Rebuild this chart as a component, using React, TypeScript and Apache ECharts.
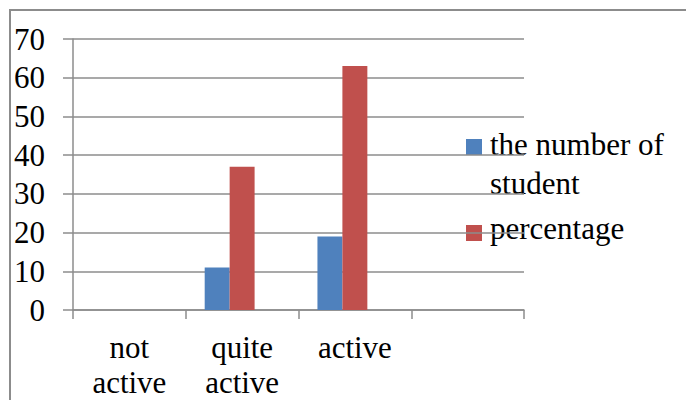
import React, { useEffect, useRef } from "react";
import * as echarts from "echarts";

const categories = ["not active", "quite active", "active", ""];
const seriesNames = ["the number of student", "percentage"];
const studentCounts = [0, 11, 19, null];
const percentages = [0, 37, 63, null];
const emptySeries = [null, null, null, null];
const yTicks = { min: 0, max: 70, interval: 10 };

const colors = ["#4F81BD", "#C0504D"];
const FONT = "Times New Roman";
const GREY = "#8c8c8c";

const nameWords = seriesNames[0].split(" ");
const legendLine1 = nameWords.slice(0, 3).join(" ");
const legendLine2 = nameWords.slice(3).join(" ");

export default function App() {
  const ref = useRef<HTMLDivElement>(null);
  useEffect(() => {
    if (!ref.current) return;
    const chart = echarts.init(ref.current, null, { renderer: "svg" });
    chart.setOption({
      animation: false,
      textStyle: { fontFamily: FONT },
      grid: { left: 73, right: 162, top: 39, bottom: 89, containLabel: false },
      xAxis: {
        type: "category",
        data: categories,
        boundaryGap: true,
        axisLine: { show: true, lineStyle: { color: GREY, width: 1.5 } },
        axisTick: { show: true, length: 9, alignWithLabel: false, interval: 0, lineStyle: { color: GREY, width: 1.5 } },
        axisLabel: {
          interval: 0,
          margin: 20,
          fontFamily: FONT,
          fontSize: 31,
          lineHeight: 35,
          color: "#000",
          formatter: (v: string) => v.replace(" ", "\n"),
        },
        splitLine: { show: false },
      },
      yAxis: {
        type: "value",
        min: yTicks.min,
        max: yTicks.max,
        interval: yTicks.interval,
        axisLine: { show: true, lineStyle: { color: GREY, width: 1.5 } },
        axisTick: { show: true, length: 10, lineStyle: { color: GREY, width: 1.5 } },
        axisLabel: { margin: 28, fontFamily: FONT, fontSize: 31, color: "#000" },
        splitLine: { show: true, lineStyle: { color: GREY, width: 1.5 } },
      },
      series: [
        { name: seriesNames[0], type: "bar", data: studentCounts, barGap: "0%", barCategoryGap: "33.6%", itemStyle: { color: colors[0] } },
        { name: seriesNames[1], type: "bar", data: percentages, barGap: "0%", barCategoryGap: "33.6%", itemStyle: { color: colors[1] } },
        { name: "", type: "bar", data: emptySeries, barGap: "0%", barCategoryGap: "33.6%", itemStyle: { color: "transparent" } },
      ],
      graphic: [
        { type: "rect", shape: { x: 10, y: 10, width: 720, height: 440 }, style: { fill: "none", stroke: GREY, lineWidth: 2 }, silent: true },
        { type: "rect", shape: { x: 466, y: 139, width: 16, height: 16 }, style: { fill: colors[0] } },
        { type: "text", x: 490, y: 129, style: { text: legendLine1, fontFamily: FONT, fontSize: 31, fill: "#000" } },
        { type: "text", x: 490, y: 168, style: { text: legendLine2, fontFamily: FONT, fontSize: 31, fill: "#000" } },
        { type: "rect", shape: { x: 466, y: 225, width: 16, height: 16 }, style: { fill: colors[1] } },
        { type: "text", x: 490, y: 213, style: { text: seriesNames[1], fontFamily: FONT, fontSize: 31, fill: "#000" } },
      ],
    });
    return () => chart.dispose();
  }, []);
  return (
    <div
      ref={ref}
      style={{ position: "absolute", left: 0, top: 0, width: 686, height: 400, background: "#fff" }}
    />
  );
}
